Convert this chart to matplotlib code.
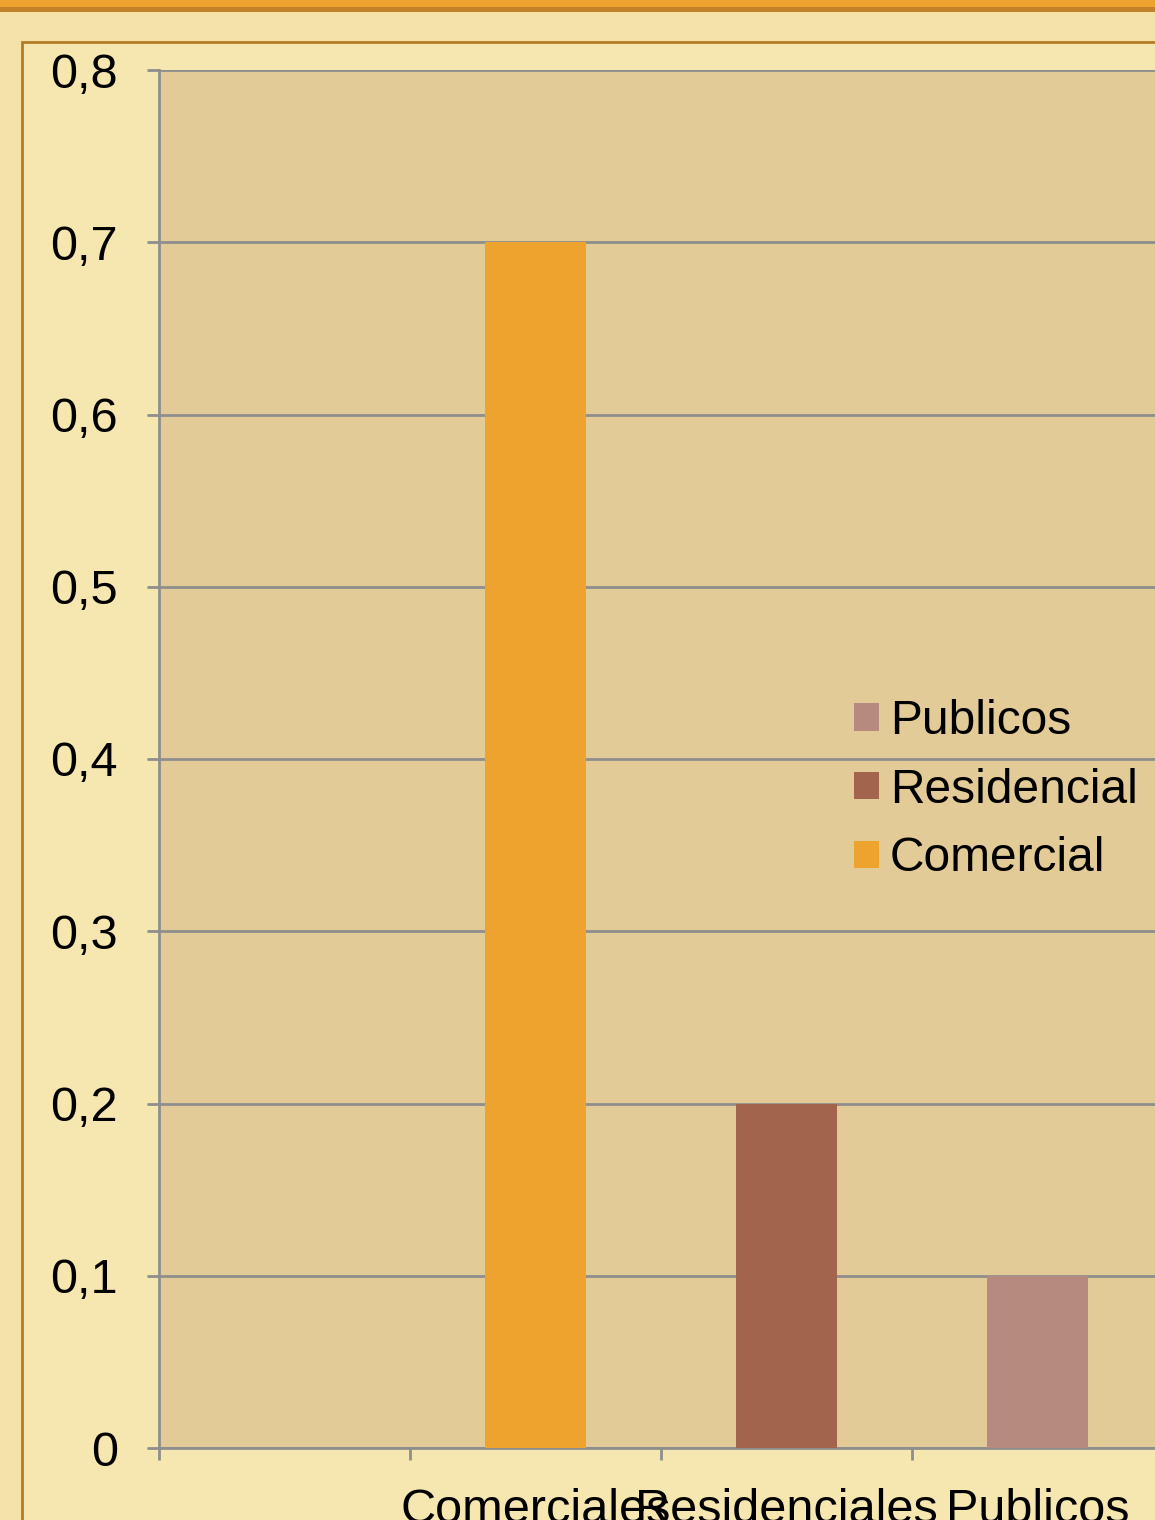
import matplotlib.pyplot as plt
from matplotlib.patches import Rectangle

plt.switch_backend("Agg")
plt.rcParams["font.family"] = ["Liberation Sans", "DejaVu Sans"]

# data
categories = ["", "Comerciales", "Residenciales", "Publicos"]
series_names = ["Comercial", "Residencial", "Publicos"]
comercial = [0, 0.7, 0, 0]
residencial = [0, 0, 0.2, 0]
publicos = [0, 0, 0, 0.1]
series_colors = ["#EFA32F", "#A3644E", "#B68A7E"]
y_ticks = [0, 0.1, 0.2, 0.3, 0.4, 0.5, 0.6, 0.7, 0.8]
y_labels = ["0", "0,1", "0,2", "0,3", "0,4", "0,5", "0,6", "0,7", "0,8"]

W, H = 1155, 1520
fig = plt.figure(figsize=(W / 100, H / 100), dpi=100)
fig.patch.set_facecolor("#F4E2A8")

# slide decorations: orange band on top and chart frame (behind the axes)
fig.add_artist(Rectangle((0, 1 - 7 / H), 1, 7 / H, transform=fig.transFigure,
                         facecolor="#EFA32F", edgecolor="none", zorder=-5))
fig.add_artist(Rectangle((0, 1 - 12 / H), 1, 5 / H, transform=fig.transFigure,
                         facecolor="#C2822A", edgecolor="none", zorder=-5))
fig.add_artist(Rectangle((22 / W, -0.1), 1.2, 1.1 - 42 / H, transform=fig.transFigure,
                         facecolor="#F6E6B0", edgecolor="#B57B25", linewidth=2,
                         zorder=-5))

ax = fig.add_axes([159 / W, 72 / H, 1004 / W, 1378 / H])
ax.set_facecolor("#E2CB97")

x = range(len(categories))
bottom = [0] * len(categories)
for name, vals, color in zip(series_names, [comercial, residencial, publicos], series_colors):
    ax.bar(x, vals, width=0.4, bottom=bottom, color=color, label=name, zorder=3)
    bottom = [b + v for b, v in zip(bottom, vals)]

ax.set_xlim(-0.5, len(categories) - 0.5)
ax.set_ylim(0, 0.8)
ax.set_yticks(y_ticks)
ax.set_yticklabels(y_labels)
ax.grid(axis="y", color="#8E8E8E", linewidth=2, zorder=1)

ax.set_xticks(list(x))
ax.set_xticklabels(categories)
ax.set_xticks([i - 0.5 for i in x], minor=True)
ax.tick_params(axis="x", which="major", length=0, pad=29, labelsize=35)
ax.tick_params(axis="x", which="minor", length=8.6, width=2, color="#8E8E8E")
ax.tick_params(axis="y", length=8.6, width=2, color="#8E8E8E", pad=21, labelsize=35)

for side in ["top", "right"]:
    ax.spines[side].set_visible(False)
for side in ["left", "bottom"]:
    ax.spines[side].set_color("#8E8E8E")
    ax.spines[side].set_linewidth(2)

handles, labels = ax.get_legend_handles_labels()
ax.legend(handles[::-1], labels[::-1], loc="center left",
          bbox_to_anchor=(0.692, 0.4775), frameon=False, fontsize=34.5,
          handlelength=0.52, handleheight=0.52, handletextpad=0.23,
          labelspacing=0.5, borderpad=0, borderaxespad=0)

fig.savefig("out.png", dpi=100, facecolor=fig.get_facecolor())
